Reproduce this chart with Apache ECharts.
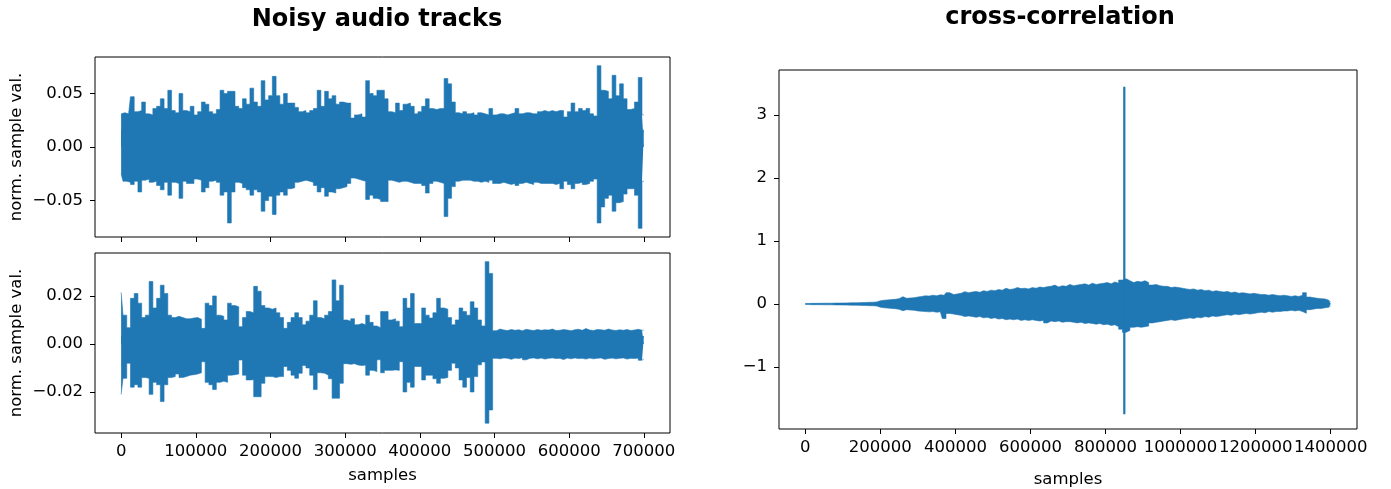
<!DOCTYPE html>
<html>
<head>
<meta charset="utf-8">
<script src="https://cdn.jsdelivr.net/npm/echarts@6/dist/echarts.min.js"></script>
<style>
  html, body { margin: 0; padding: 0; background: #fff; }
  #main { width: 1391px; height: 489px; }
</style>
</head>
<body>
<div id="main"></div>
<script>
// envelope of each track, one value per bin (hi = upper edge, lo = lower edge)
var trackStep = 5000;      // samples per bin, audio tracks
var corrStep = 10000;      // samples per bin, cross-correlation

var track1Hi = [
  0.031, 0.032, 0.031, 0.047, 0.033, 0.034, 0.042, 0.031, 0.030, 0.036,
  0.038, 0.045, 0.036, 0.053, 0.034, 0.032, 0.050, 0.034, 0.033, 0.038,
  0.030, 0.033, 0.042, 0.040, 0.033, 0.031, 0.035, 0.053, 0.050, 0.052,
  0.052, 0.038, 0.036, 0.045, 0.040, 0.055, 0.042, 0.038, 0.062, 0.044,
  0.048, 0.066, 0.048, 0.040, 0.050, 0.041, 0.041, 0.037, 0.033, 0.034,
  0.032, 0.034, 0.036, 0.053, 0.038, 0.052, 0.045, 0.048, 0.040, 0.042,
  0.041, 0.041, 0.027, 0.030, 0.031, 0.028, 0.062, 0.050, 0.048, 0.053,
  0.053, 0.045, 0.033, 0.032, 0.041, 0.034, 0.040, 0.041, 0.038, 0.031,
  0.033, 0.038, 0.045, 0.036, 0.035, 0.036, 0.036, 0.064, 0.059, 0.042,
  0.032, 0.031, 0.033, 0.031, 0.032, 0.030, 0.032, 0.031, 0.030, 0.036,
  0.030, 0.031, 0.031, 0.030, 0.031, 0.032, 0.036, 0.031, 0.032, 0.032,
  0.031, 0.031, 0.033, 0.034, 0.033, 0.034, 0.033, 0.034, 0.034, 0.028,
  0.033, 0.041, 0.033, 0.036, 0.034, 0.036, 0.031, 0.029, 0.076, 0.053,
  0.052, 0.045, 0.067, 0.048, 0.059, 0.045, 0.035, 0.036, 0.042, 0.065, 0.030
];
var track1Lo = [
  -0.025, -0.032, -0.033, -0.035, -0.032, -0.042, -0.031, -0.030, -0.033, -0.032,
  -0.036, -0.040, -0.033, -0.045, -0.033, -0.034, -0.048, -0.032, -0.034, -0.034,
  -0.030, -0.031, -0.042, -0.038, -0.032, -0.031, -0.033, -0.045, -0.042, -0.071,
  -0.042, -0.033, -0.034, -0.038, -0.040, -0.045, -0.040, -0.042, -0.060, -0.050,
  -0.046, -0.063, -0.045, -0.042, -0.045, -0.039, -0.038, -0.033, -0.032, -0.031,
  -0.032, -0.033, -0.036, -0.042, -0.038, -0.046, -0.042, -0.043, -0.039, -0.038,
  -0.037, -0.034, -0.029, -0.030, -0.031, -0.032, -0.049, -0.045, -0.048, -0.049,
  -0.051, -0.051, -0.031, -0.032, -0.033, -0.032, -0.032, -0.033, -0.034, -0.034,
  -0.034, -0.036, -0.043, -0.034, -0.032, -0.033, -0.034, -0.065, -0.048, -0.037,
  -0.032, -0.031, -0.031, -0.031, -0.032, -0.032, -0.033, -0.032, -0.033, -0.031,
  -0.034, -0.034, -0.033, -0.034, -0.035, -0.034, -0.036, -0.034, -0.033, -0.034,
  -0.035, -0.033, -0.034, -0.034, -0.034, -0.034, -0.035, -0.034, -0.039, -0.032,
  -0.035, -0.039, -0.034, -0.033, -0.035, -0.034, -0.032, -0.030, -0.071, -0.056,
  -0.048, -0.045, -0.060, -0.052, -0.051, -0.044, -0.039, -0.039, -0.045, -0.076, -0.032
];

var track2Hi = [
  0.0215, 0.0120, 0.0068, 0.0190, 0.0210, 0.0170, 0.0110, 0.0120, 0.0260, 0.0150,
  0.0190, 0.0245, 0.0210, 0.0120, 0.0110, 0.0115, 0.0110, 0.0105, 0.0105, 0.0108,
  0.0110, 0.0103, 0.0065, 0.0170, 0.0160, 0.0200, 0.0120, 0.0115, 0.0100, 0.0170,
  0.0160, 0.0155, 0.0072, 0.0110, 0.0135, 0.0130, 0.0240, 0.0220, 0.0160, 0.0150,
  0.0145, 0.0150, 0.0130, 0.0110, 0.0065, 0.0090, 0.0110, 0.0130, 0.0110, 0.0080,
  0.0095, 0.0120, 0.0180, 0.0110, 0.0105, 0.0120, 0.0135, 0.0267, 0.0180, 0.0245,
  0.0100, 0.0095, 0.0105, 0.0080, 0.0085, 0.0080, 0.0120, 0.0090, 0.0075, 0.0068,
  0.0135, 0.0135, 0.0100, 0.0105, 0.0095, 0.0072, 0.0190, 0.0150, 0.0210, 0.0085,
  0.0085, 0.0150, 0.0120, 0.0108, 0.0130, 0.0190, 0.0150, 0.0145, 0.0110, 0.0080,
  0.0100, 0.0150, 0.0135, 0.0120, 0.0176, 0.0150, 0.0100, 0.0075, 0.0343, 0.0294,
  0.0055, 0.0062, 0.0058, 0.0056, 0.0060, 0.0057, 0.0059, 0.0055, 0.0061, 0.0058,
  0.0056, 0.0060, 0.0057, 0.0059, 0.0058, 0.0062, 0.0056, 0.0057, 0.0060, 0.0058,
  0.0055, 0.0059, 0.0061, 0.0057, 0.0064, 0.0058, 0.0056, 0.0060, 0.0059, 0.0057,
  0.0062, 0.0058, 0.0056, 0.0059, 0.0057, 0.0060, 0.0056, 0.0058, 0.0061, 0.0057, 0.0058
];
var track2Lo = [
  -0.0210, -0.0143, -0.0080, -0.0180, -0.0170, -0.0180, -0.0140, -0.0143, -0.0210, -0.0160,
  -0.0170, -0.0240, -0.0170, -0.0140, -0.0136, -0.0125, -0.0140, -0.0136, -0.0130, -0.0128,
  -0.0125, -0.0120, -0.0074, -0.0160, -0.0170, -0.0190, -0.0160, -0.0155, -0.0160, -0.0130,
  -0.0128, -0.0125, -0.0067, -0.0130, -0.0150, -0.0149, -0.0220, -0.0220, -0.0164, -0.0136,
  -0.0136, -0.0140, -0.0136, -0.0136, -0.0094, -0.0110, -0.0130, -0.0143, -0.0122, -0.0090,
  -0.0100, -0.0130, -0.0190, -0.0120, -0.0122, -0.0130, -0.0145, -0.0226, -0.0226, -0.0164,
  -0.0082, -0.0085, -0.0082, -0.0088, -0.0090, -0.0088, -0.0130, -0.0110, -0.0115, -0.0066,
  -0.0120, -0.0110, -0.0110, -0.0108, -0.0110, -0.0074, -0.0200, -0.0160, -0.0180, -0.0094,
  -0.0094, -0.0150, -0.0130, -0.0130, -0.0145, -0.0164, -0.0143, -0.0140, -0.0110, -0.0080,
  -0.0100, -0.0150, -0.0180, -0.0140, -0.0200, -0.0136, -0.0087, -0.0075, -0.0330, -0.0275,
  -0.0060, -0.0062, -0.0058, -0.0060, -0.0064, -0.0059, -0.0061, -0.0057, -0.0066, -0.0060,
  -0.0058, -0.0062, -0.0059, -0.0063, -0.0060, -0.0058, -0.0061, -0.0060, -0.0065, -0.0059,
  -0.0062, -0.0058, -0.0061, -0.0060, -0.0063, -0.0059, -0.0062, -0.0060, -0.0058, -0.0064,
  -0.0061, -0.0059, -0.0062, -0.0060, -0.0058, -0.0063, -0.0060, -0.0061, -0.0059, -0.0068, -0.0062
];

var corrHi = [
  0.008, 0.009, 0.010, 0.010, 0.011, 0.012, 0.012, 0.013, 0.014, 0.015,
  0.016, 0.017, 0.018, 0.019, 0.020, 0.022, 0.024, 0.026, 0.028, 0.032,
  0.050, 0.060, 0.065, 0.070, 0.075, 0.085, 0.116, 0.090, 0.095, 0.100,
  0.110, 0.120, 0.130, 0.125, 0.140, 0.130, 0.145, 0.140, 0.180, 0.150,
  0.160, 0.170, 0.196, 0.180, 0.190, 0.200, 0.185, 0.210, 0.200, 0.220,
  0.210, 0.230, 0.220, 0.250, 0.230, 0.240, 0.260, 0.245, 0.250, 0.240,
  0.260, 0.250, 0.270, 0.260, 0.275, 0.280, 0.300, 0.270, 0.290, 0.280,
  0.310, 0.290, 0.300, 0.310, 0.320, 0.300, 0.330, 0.310, 0.320, 0.330,
  0.340, 0.320, 0.350, 0.330, 0.380, 0.400, 0.370, 0.340, 0.360, 0.350,
  0.370, 0.340, 0.300, 0.310, 0.290, 0.280, 0.280, 0.260, 0.270, 0.260,
  0.250, 0.240, 0.230, 0.240, 0.220, 0.230, 0.210, 0.220, 0.200, 0.210,
  0.200, 0.190, 0.200, 0.180, 0.190, 0.170, 0.180, 0.170, 0.160, 0.170,
  0.160, 0.150, 0.150, 0.140, 0.150, 0.140, 0.130, 0.140, 0.130, 0.120,
  0.130, 0.120, 0.140, 0.180, 0.110, 0.100, 0.090, 0.085, 0.080, 0.060, 0.030
];
var corrLo = [
  -0.008, -0.009, -0.010, -0.010, -0.011, -0.012, -0.012, -0.013, -0.014, -0.015,
  -0.016, -0.017, -0.018, -0.019, -0.020, -0.022, -0.024, -0.026, -0.028, -0.032,
  -0.050, -0.060, -0.065, -0.070, -0.075, -0.085, -0.106, -0.090, -0.095, -0.100,
  -0.110, -0.115, -0.120, -0.125, -0.120, -0.130, -0.125, -0.230, -0.150, -0.160,
  -0.170, -0.180, -0.200, -0.190, -0.200, -0.210, -0.200, -0.220, -0.210, -0.230,
  -0.220, -0.240, -0.230, -0.250, -0.240, -0.250, -0.240, -0.260, -0.250, -0.260,
  -0.250, -0.260, -0.270, -0.260, -0.300, -0.270, -0.280, -0.270, -0.290, -0.280,
  -0.280, -0.290, -0.300, -0.290, -0.310, -0.300, -0.310, -0.320, -0.310, -0.330,
  -0.320, -0.340, -0.330, -0.360, -0.400, -0.450, -0.420, -0.370, -0.360, -0.370,
  -0.360, -0.350, -0.300, -0.290, -0.280, -0.270, -0.260, -0.250, -0.260, -0.250,
  -0.240, -0.230, -0.220, -0.230, -0.210, -0.220, -0.200, -0.210, -0.190, -0.200,
  -0.190, -0.180, -0.170, -0.180, -0.160, -0.170, -0.160, -0.150, -0.160, -0.150,
  -0.140, -0.130, -0.140, -0.120, -0.130, -0.120, -0.120, -0.110, -0.110, -0.100,
  -0.110, -0.100, -0.120, -0.148, -0.090, -0.080, -0.070, -0.070, -0.060, -0.050, -0.030
];
// the single sharp lag peak of the cross-correlation
var corrPeakAt = 850000;
var corrPeakRange = [-1.75, 3.45];

// tick labels
var trackTicksX = [0, 100000, 200000, 300000, 400000, 500000, 600000, 700000];
var corrTicksX = [0, 200000, 400000, 600000, 800000, 1000000, 1200000, 1400000];
var track1TicksY = [-0.05, 0, 0.05];
var track2TicksY = [-0.02, 0, 0.02];
var corrTicksY = [-1, 0, 1, 2, 3];

var BLUE = '#1f77b4';
var FONT = 'DejaVu Sans';
var LABEL_SIZE = 16.5;

function rows(values, step) {
    var out = [];
    for (var i = 0; i < values.length; i++) out.push([i * step, values[i]]);
    return out;
}

// upper edge filled down to zero; lower edge filled up a little past zero
// so the two fills overlap and leave no seam
function envelope(idx, hi, lo, step) {
    var overlap = Math.min.apply(null, hi) * 0.6;
    function part(values, origin) {
        return {
            type: 'line', xAxisIndex: idx, yAxisIndex: idx,
            step: 'middle', symbol: 'none', silent: true,
            lineStyle: { width: 0.6, color: BLUE },
            areaStyle: { color: BLUE, opacity: 1, origin: origin },
            data: rows(values, step)
        };
    }
    return [part(lo, overlap), part(hi, 0)];
}

function minus(v, digits) {
    var t = Math.abs(v).toFixed(digits);
    return (v < 0 ? '\u2212' : '') + t;
}

function xAxis(grid, min, max, ticks, showLabels, name, nameGap) {
    return {
        type: 'value', gridIndex: grid, min: min, max: max,
        name: name, nameLocation: 'middle', nameGap: nameGap, nameMoveOverlap: false,
        nameTextStyle: { color: '#000', fontSize: LABEL_SIZE, fontFamily: FONT },
        axisLine: { show: false, onZero: false },
        splitLine: { show: false },
        axisTick: { show: true, inside: false, length: 5, customValues: ticks, lineStyle: { color: '#000', width: 1 } },
        axisLabel: {
            show: showLabels, customValues: ticks, margin: 10, color: '#000', fontSize: LABEL_SIZE, fontFamily: FONT,
            formatter: function (v) { return String(v); }
        }
    };
}

function yAxis(grid, min, max, ticks, digits, name) {
    return {
        type: 'value', gridIndex: grid, min: min, max: max,
        name: name, nameLocation: 'middle', nameGap: 70, nameRotate: 90, nameMoveOverlap: false,
        nameTextStyle: { color: '#000', fontSize: LABEL_SIZE, fontFamily: FONT },
        axisLine: { show: false, onZero: false },
        splitLine: { show: false },
        axisTick: { show: true, inside: false, length: 5, customValues: ticks, lineStyle: { color: '#000', width: 1 } },
        axisLabel: {
            customValues: ticks, margin: 12, color: '#000', fontSize: LABEL_SIZE, fontFamily: FONT,
            formatter: function (v) { return minus(v, digits); }
        }
    };
}

function panel(left, top, width, height) {
    return {
        left: left, top: top, width: width, height: height,
        show: true, borderColor: '#000', borderWidth: 1, backgroundColor: 'transparent',
        containLabel: false, outerBoundsMode: 'none'
    };
}

var chart = echarts.init(document.getElementById('main'), null, { renderer: 'canvas' });

chart.setOption({
    animation: false,
    backgroundColor: '#fff',
    title: [
        { text: 'Noisy audio tracks', left: 372, top: 3, textAlign: 'center',
          textStyle: { fontSize: 24, fontWeight: 'bold', color: '#000', fontFamily: FONT } },
        { text: 'cross-correlation', left: 1055, top: 1, textAlign: 'center',
          textStyle: { fontSize: 24, fontWeight: 'bold', color: '#000', fontFamily: FONT } }
    ],
    grid: [
        panel(95, 57, 575, 180),
        panel(95, 253, 575, 180),
        panel(779, 70, 578, 359)
    ],
    xAxis: [
        xAxis(0, -35000, 735000, trackTicksX, false, '', 0),
        xAxis(1, -35000, 735000, trackTicksX, true, 'samples', 34),
        xAxis(2, -70000, 1470000, corrTicksX, true, 'samples', 42)
    ],
    yAxis: [
        yAxis(0, -0.0841, 0.0841, track1TicksY, 2, 'norm. sample val.'),
        yAxis(1, -0.0371, 0.0379, track2TicksY, 2, 'norm. sample val.'),
        yAxis(2, -1.984, 3.714, corrTicksY, 0, '')
    ],
    series: []
        .concat(envelope(0, track1Hi, track1Lo, trackStep))
        .concat(envelope(1, track2Hi, track2Lo, trackStep))
        .concat(envelope(2, corrHi, corrLo, corrStep))
        .concat([{
            type: 'line', xAxisIndex: 2, yAxisIndex: 2, symbol: 'none', silent: true,
            lineStyle: { width: 2.2, color: BLUE },
            data: [[corrPeakAt, corrPeakRange[0]], [corrPeakAt, corrPeakRange[1]]]
        }])
});
</script>
</body>
</html>
